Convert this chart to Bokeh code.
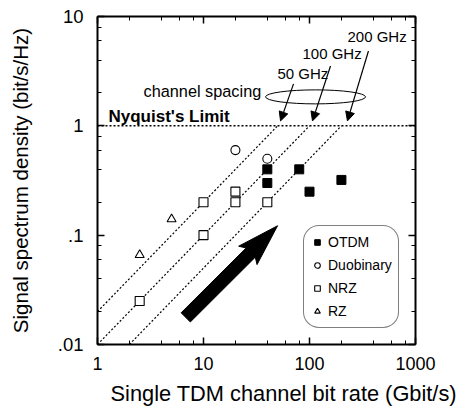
import numpy as np
from bokeh.plotting import figure
from bokeh.models import LogAxis, LogTicker, CustomJSTickFormatter, Arrow, NormalHead, Title
from bokeh.core.properties import value
from bokeh.embed import file_html
from bokeh.resources import INLINE

FONT = "Liberation Sans"

# Single-channel bit rate (Gbit/s) vs. spectral density (bit/s/Hz)
otdm_rate = [40, 40, 80, 100, 200]
otdm_density = [0.4, 0.3, 0.4, 0.25, 0.32]
duo_rate = [20, 40]
duo_density = [0.6, 0.5]
nrz_rate = [2.5, 10, 10, 20, 20, 40]
nrz_density = [0.025, 0.1, 0.2, 0.25, 0.2, 0.2]
rz_rate = [2.5, 5]
rz_density = [0.066, 0.14]

# WDM channel spacings (GHz): density = bit rate / spacing
spacings_ghz = [50, 100, 200]
spacing_labels = ["50 GHz", "100 GHz", "200 GHz"]
nyquist_limit = 1.0

x_min, x_max = 1, 1000
y_min, y_max = 0.01, 10

FL, FR, FT, FB = 97, 46, 16, 69
W, H = 461, 413

p = figure(width=W, height=H, x_axis_type="log", y_axis_type="log",
           x_range=(x_min, x_max), y_range=(y_min, y_max),
           output_backend="svg", toolbar_location=None,
           min_border_left=FL, min_border_right=FR,
           min_border_top=FT, min_border_bottom=FB)
p.grid.visible = False
p.outline_line_color = None
p.background_fill_color = "white"
p.border_fill_color = "white"

x_fmt = CustomJSTickFormatter(code="return String(Math.round(tick));")
y_fmt = CustomJSTickFormatter(code="""
const e = Math.round(Math.log10(tick));
return e >= 0 ? String(Math.round(10 ** e)) : "." + "0".repeat(-e - 1) + "1";
""")
blank = CustomJSTickFormatter(code="return '';")


def style_axis(ax):
    ax.ticker = LogTicker(mantissas=[1])
    ax.axis_line_width = 2
    ax.axis_line_color = "black"
    ax.major_tick_in = 7
    ax.major_tick_out = 0
    ax.minor_tick_in = 4
    ax.minor_tick_out = 0
    ax.major_tick_line_width = 1.5
    ax.major_tick_line_color = "black"
    ax.minor_tick_line_color = "black"
    ax.major_label_text_font = FONT
    ax.major_label_text_font_size = "18px"
    ax.major_label_text_color = "black"
    ax.axis_label_text_font = FONT
    ax.axis_label_text_font_style = "normal"
    ax.axis_label_text_color = "black"


xb = p.below[0]
yl = p.left[0]
style_axis(xb)
style_axis(yl)
xb.formatter = x_fmt
yl.formatter = y_fmt
yl.axis_label = "Signal spectrum density (bit/s/Hz)"
yl.axis_label_text_font_size = "20.5px"
yl.major_label_text_font_size = "18.5px"
xb.major_label_standoff = 12
yl.major_label_standoff = 14
yl.axis_label_standoff = 23

xt = LogAxis(formatter=blank)
yr = LogAxis(formatter=blank)
style_axis(xt)
style_axis(yr)
p.add_layout(xt, "above")
p.add_layout(yr, "right")

# x-axis title, offset a little to the right of the frame's left edge
p.add_layout(Title(text="Single TDM channel bit rate (Gbit/s)", align="left",
                   offset=13, standoff=13, text_font=FONT, text_font_size="21.8px",
                   text_font_style="normal", text_color="black"), "below")

# Nyquist limit
p.line([x_min, x_max], [nyquist_limit, nyquist_limit], line_color="black",
       line_width=1.5, line_dash="2 2")

# Constant channel-spacing lines
for s in spacings_ghz:
    x0 = max(x_min, y_min * s)
    p.line([x0, s], [x0 / s, nyquist_limit], line_color="black",
           line_width=1.2, line_dash="2 2")

# Data points
r_otdm = p.scatter(otdm_rate, otdm_density, marker="square", size=9,
                   fill_color="black", line_color="black", legend_label="OTDM")
r_duo = p.scatter(duo_rate, duo_density, marker="circle", size=9,
                  fill_color="white", line_color="black", line_width=1.1,
                  legend_label="Duobinary")
r_nrz = p.scatter(nrz_rate, nrz_density, marker="square", size=9,
                  fill_color="white", line_color="black", line_width=1.1,
                  legend_label="NRZ")
r_rz = p.scatter(rz_rate, rz_density, marker="triangle", size=9,
                 fill_color="white", line_color="black", line_width=1.1,
                 legend_label="RZ")

lg = p.legend[0]
lg.location = (206, 16)
lg.margin = 0
lg.padding = 6
lg.spacing = 3
lg.label_height = 20
lg.glyph_height = 20
lg.glyph_width = 14
lg.label_standoff = 4
lg.label_text_font = FONT
lg.label_text_font_size = "14px"
lg.label_text_color = "black"
lg.border_line_color = "black"
lg.border_line_width = 1.2
lg.border_radius = 16
lg.background_fill_color = "white"
lg.background_fill_alpha = 1

# Annotations
p.text(x=[1.27], y=[1.22], text=["Nyquist's Limit"], text_font=value(FONT),
       text_font_style="bold", text_font_size="17px", text_align="left",
       text_baseline="middle", text_color="black")
p.text(x=[2.72], y=[2.1], text=["channel spacing"], text_font=value(FONT),
       text_font_size="16.3px", text_align="left", text_baseline="middle",
       text_color="black")
p.text(x=[49.9, 85.9, 228], y=[2.99, 4.54, 6.5], text=spacing_labels,
       text_font=value(FONT), text_font_size="15px", text_align="left",
       text_baseline="middle", text_color="black")

p.ellipse(x=[114], y=[1.84], width=100, height=14, width_units="screen",
          height_units="screen", fill_color=None, line_color="black", line_width=1)

for xs, ys, xe, ye in [(70.7, 2.42, 53.3, 1.11), (157.8, 3.53, 106.7, 1.11),
                       (360, 4.84, 228, 1.11)]:
    p.add_layout(Arrow(end=NormalHead(size=9, fill_color="black", line_color="black"),
                       x_start=xs, y_start=ys, x_end=xe, y_end=ye,
                       line_color="black", line_width=1.2))

# Big trend arrow, built in screen-proportional log space
px_dec_x = (W - FL - FR) / np.log10(x_max / x_min)
px_dec_y = (H - FT - FB) / np.log10(y_max / y_min)
tail = np.array([np.log10(6.8) * px_dec_x, np.log10(0.0177) * px_dec_y])
tip = np.array([np.log10(50) * px_dec_x, np.log10(0.122) * px_dec_y])
d = (tip - tail) / np.linalg.norm(tip - tail)
n = np.array([-d[1], d[0]])
base = tip - d * 42
join = base + d * 4
shaft, head = 6.5, 13
pts = [tail + n * shaft, join + n * shaft, base + n * head, tip,
       base - n * head, join - n * shaft, tail - n * shaft]
ax_ = [10 ** (q[0] / px_dec_x) for q in pts]
ay_ = [10 ** (q[1] / px_dec_y) for q in pts]
p.patch(ax_, ay_, fill_color="black", line_color="black", line_width=1)

open("out.html", "w").write(file_html(p, INLINE))
